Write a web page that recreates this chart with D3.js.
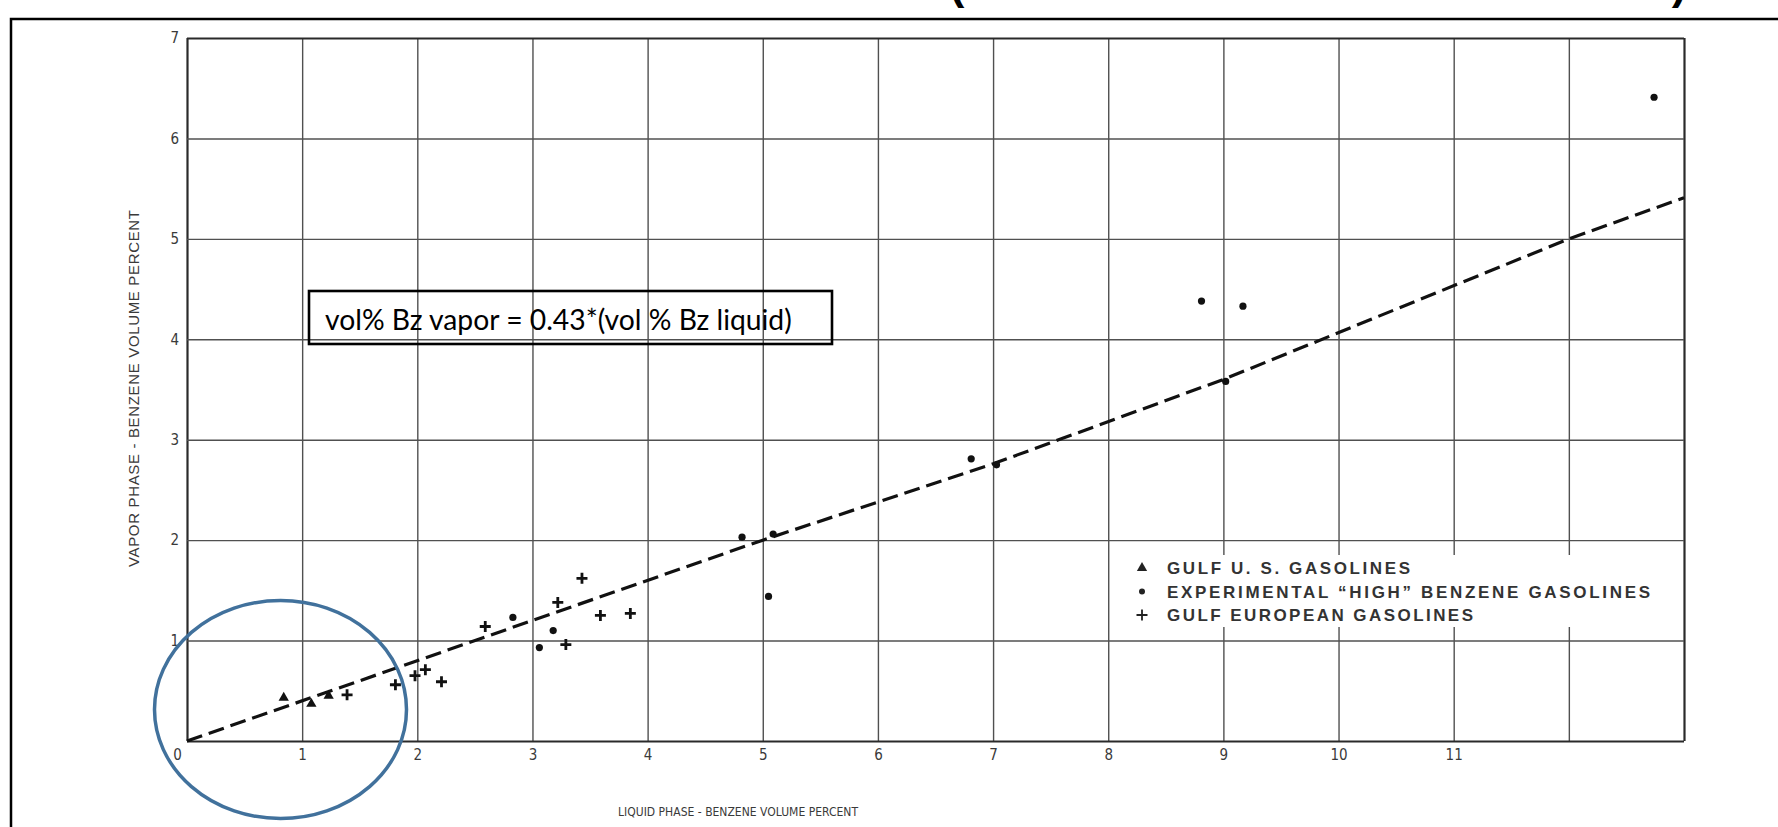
<!DOCTYPE html>
<html>
<head>
<meta charset="utf-8">
<script src="https://cdn.jsdelivr.net/npm/d3@7"></script>
<style>
  html, body { margin: 0; padding: 0; background: #fff; }
  svg { display: block; }
</style>
</head>
<body>
<svg id="chart" width="1778" height="827"></svg>
<script>
// ---------- data ----------
const xTickValues = [0, 1, 2, 3, 4, 5, 6, 7, 8, 9, 10, 11];
const yTickValues = [1, 2, 3, 4, 5, 6, 7];
const xGridValues = [0, 1, 2, 3, 4, 5, 6, 7, 8, 9, 10, 11, 12, 13];
const yGridValues = [0, 1, 2, 3, 4, 5, 6, 7];

// Gulf U.S. gasolines (triangles)
const gulfUSX = [0.84, 1.08, 1.23];
const gulfUSY = [0.43, 0.37, 0.45];

// Experimental "high" benzene gasolines (dots)
const highBzX = [2.83, 3.06, 3.18, 4.82, 5.09, 5.05, 6.81, 7.03, 8.81, 9.17, 9.02, 12.74];
const highBzY = [1.23, 0.93, 1.10, 2.03, 2.06, 1.44, 2.81, 2.75, 4.38, 4.33, 3.58, 6.41];

// Gulf European gasolines (plus)
const europeX = [1.39, 1.81, 1.98, 2.07, 2.21, 2.59, 3.22, 3.29, 3.43, 3.59, 3.85];
const europeY = [0.46, 0.56, 0.65, 0.71, 0.59, 1.14, 1.38, 0.96, 1.62, 1.25, 1.27];

// dashed correlation line
const fitX = [0, 5, 7, 9, 12, 13];
const fitY = [0, 2.0, 2.76, 3.6, 5.0, 5.41];

const legendLabels = [
  "GULF U. S. GASOLINES",
  "EXPERIMENTAL \u201CHIGH\u201D BENZENE GASOLINES",
  "GULF EUROPEAN GASOLINES"
];
const legendKinds = ["triangle", "dot", "plus"];
const xTitle = "LIQUID PHASE - BENZENE VOLUME PERCENT";
const yTitle = "VAPOR PHASE - BENZENE VOLUME PERCENT";
const noteText = "vol% Bz vapor = 0.43*(vol % Bz liquid)";

// ---------- layout ----------
const svg = d3.select("#chart");
const W = 1778, H = 827;
const plot = { left: 187, right: 1684, top: 38, bottom: 741 };
const x = d3.scaleLinear().domain([0, 13]).range([plot.left, plot.right]);
const y = d3.scaleLinear().domain([0, 7]).range([plot.bottom, plot.top]);
const condensed = "'DejaVu Sans Condensed','DejaVu Sans',sans-serif";
const helv = "'Liberation Sans',Arial,sans-serif";

svg.append("rect").attr("width", W).attr("height", H).attr("fill", "#fff");

// outer slide frame (left + top edges)
svg.append("path")
  .attr("d", `M11,${H} V19 H${W}`)
  .attr("fill", "none").attr("stroke", "#000").attr("stroke-width", 2.5);

// remnants of a cropped title above the frame
svg.append("text").attr("x", 957).attr("y", -1).attr("text-anchor", "middle")
  .attr("font-family", helv).attr("font-weight", "bold")
  .attr("font-size", 44).attr("fill", "#000").text("(");
svg.append("text").attr("x", 1679).attr("y", -1).attr("text-anchor", "middle")
  .attr("font-family", helv).attr("font-weight", "bold")
  .attr("font-size", 44).attr("fill", "#000").text(")");

// ---------- grid ----------
const gridG = svg.append("g");
gridG.append("g")
  .attr("transform", `translate(0,${plot.bottom})`)
  .call(d3.axisBottom(x).tickValues(xGridValues).tickSize(-(plot.bottom - plot.top)).tickFormat(""))
  .call(g => g.select(".domain").remove())
  .call(g => g.selectAll(".tick line")
    .attr("stroke", d => (d === 0 || d === 13) ? "#2a2a2a" : "#505050")
    .attr("stroke-width", d => (d === 0 || d === 13) ? 2.2 : 1.4));
gridG.append("g")
  .attr("transform", `translate(${plot.left},0)`)
  .call(d3.axisLeft(y).tickValues(yGridValues).tickSize(-(plot.right - plot.left)).tickFormat(""))
  .call(g => g.select(".domain").remove())
  .call(g => g.selectAll(".tick line")
    .attr("stroke", d => (d === 0 || d === 7) ? "#2a2a2a" : "#505050")
    .attr("stroke-width", d => (d === 0 || d === 7) ? 2.2 : 1.4));

// ---------- tick labels ----------
const xAxisG = svg.append("g")
  .attr("transform", `translate(0,${plot.bottom})`)
  .call(d3.axisBottom(x).tickValues(xTickValues).tickSize(0).tickPadding(8).tickFormat(d3.format("d")));
xAxisG.select(".domain").remove();
xAxisG.selectAll("text")
  .attr("font-family", condensed).attr("font-stretch", "condensed")
  .attr("font-size", 15).attr("fill", "#3a3a3a");
xAxisG.selectAll(".tick").filter(d => d === 0).select("text").attr("x", -10);

const yAxisG = svg.append("g")
  .attr("transform", `translate(${plot.left},0)`)
  .call(d3.axisLeft(y).tickValues(yTickValues).tickSize(0).tickPadding(8).tickFormat(d3.format("d")));
yAxisG.select(".domain").remove();
yAxisG.selectAll("text")
  .attr("font-family", condensed).attr("font-stretch", "condensed")
  .attr("font-size", 15).attr("fill", "#3a3a3a");

// ---------- axis titles ----------
svg.append("text")
  .attr("x", 618).attr("y", 816)
  .attr("font-family", condensed).attr("font-stretch", "condensed")
  .attr("font-size", 12).attr("fill", "#3a3a3a")
  .attr("textLength", 240).attr("lengthAdjust", "spacing")
  .text(xTitle);

svg.append("text")
  .attr("transform", "translate(139,567) rotate(-90)")
  .attr("x", 0).attr("y", 0)
  .attr("font-family", helv)
  .attr("font-size", 15).attr("fill", "#3a3a3a")
  .attr("textLength", 357).attr("lengthAdjust", "spacing")
  .text(yTitle);

// ---------- legend (white patch interrupts the grid) ----------
svg.append("rect")
  .attr("x", 1128).attr("y", 555).attr("width", 534).attr("height", 72)
  .attr("fill", "#fff");

// ---------- dashed line ----------
const fitData = fitX.map((v, i) => [v, fitY[i]]);
svg.append("path")
  .datum(fitData)
  .attr("d", d3.line().x(d => x(d[0])).y(d => y(d[1])))
  .attr("fill", "none").attr("stroke", "#111")
  .attr("stroke-width", 3.2).attr("stroke-dasharray", "16,7");

// ---------- markers ----------
const triPath = d3.symbol().type(d3.symbolTriangle).size(46)();
function plusPath(s) { return `M${-s},0 H${s} M0,${-s} V${s}`; }

svg.append("g").selectAll("path")
  .data(gulfUSX.map((v, i) => [v, gulfUSY[i]]))
  .join("path")
  .attr("transform", d => `translate(${x(d[0])},${y(d[1])})`)
  .attr("d", triPath).attr("fill", "#111");

svg.append("g").selectAll("circle")
  .data(highBzX.map((v, i) => [v, highBzY[i]]))
  .join("circle")
  .attr("cx", d => x(d[0])).attr("cy", d => y(d[1]))
  .attr("r", 3.6).attr("fill", "#111");

svg.append("g").selectAll("path")
  .data(europeX.map((v, i) => [v, europeY[i]]))
  .join("path")
  .attr("transform", d => `translate(${x(d[0])},${y(d[1])})`)
  .attr("d", plusPath(5.5)).attr("stroke", "#111").attr("stroke-width", 2.8).attr("fill", "none");

// ---------- legend ----------
const legendRowsY = [568, 591.5, 615];
const legendTextLen = [243, 483, 306];
const lg = svg.append("g");
legendLabels.forEach((lab, i) => {
  const cy = legendRowsY[i];
  const mx = 1142;
  if (legendKinds[i] === "triangle") {
    lg.append("path").attr("transform", `translate(${mx},${cy})`).attr("d", triPath).attr("fill", "#222");
  } else if (legendKinds[i] === "dot") {
    lg.append("circle").attr("cx", mx).attr("cy", cy).attr("r", 3).attr("fill", "#222");
  } else {
    lg.append("path").attr("transform", `translate(${mx},${cy})`).attr("d", plusPath(5.5))
      .attr("stroke", "#222").attr("stroke-width", 1.8).attr("fill", "none");
  }
  lg.append("text")
    .attr("x", 1167).attr("y", cy).attr("dy", "0.36em")
    .attr("font-family", helv)
    .attr("font-weight", "bold")
    .attr("font-size", 17).attr("fill", "#333")
    .attr("textLength", legendTextLen[i]).attr("lengthAdjust", "spacing")
    .text(lab);
});

// ---------- annotation box ----------
svg.append("rect")
  .attr("x", 309).attr("y", 291).attr("width", 523).attr("height", 53)
  .attr("fill", "none").attr("stroke", "#000").attr("stroke-width", 2.6);
const note = svg.append("text")
  .attr("x", 325).attr("y", 330)
  .attr("font-family", "Lato,'Open Sans',sans-serif")
  .attr("font-size", 24).attr("fill", "#000")
  .text(noteText);
const measured = note.node().getComputedTextLength();
note.attr("font-size", 24 * 467 / measured);

// ---------- circle highlight ----------
svg.append("ellipse")
  .attr("cx", 280.5).attr("cy", 709.5).attr("rx", 126).attr("ry", 109)
  .attr("fill", "none").attr("stroke", "#41719c").attr("stroke-width", 3.5);
</script>
</body>
</html>
